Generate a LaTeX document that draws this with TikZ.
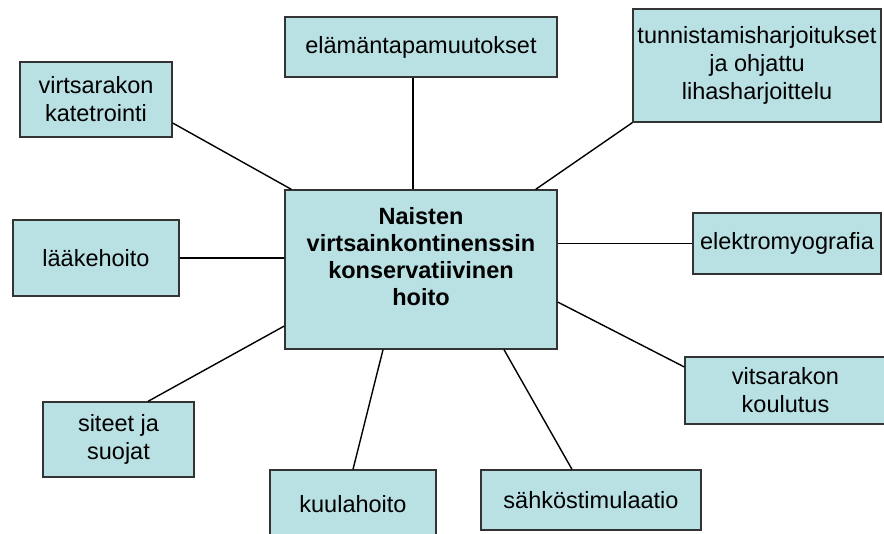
\documentclass[tikz,border=0pt]{standalone}
\usepackage{fontspec}
\setmainfont{Liberation Sans}
\definecolor{boxcyan}{RGB}{185,224,227}
\tikzset{
    mybox/.style = {rectangle, line width=1.3pt, draw=black!80, align=center, fill=boxcyan, inner sep=0pt, font=\fontsize{23.5}{28}\selectfont, text=black},
    myboxc/.style = {mybox, font=\fontsize{23.5}{27}\selectfont\bfseries},
    edgen/.style = {-, line width=1.4pt, black},
}
\begin{document}
\begin{tikzpicture}[x=1pt, y=-1pt]
  \useasboundingbox (0,0) rectangle (884,534);
  \node[myboxc, minimum width=272pt, minimum height=159pt] (cen) at (421,269.5)
    {Naisten\\virtsainkontinenssin\\konservatiivinen\\hoito\\\mbox{}};
  \node[mybox, minimum width=272pt, minimum height=60pt] (elam) at (421,47) {elämäntapamuutokset};
  \node[mybox, minimum width=248pt, minimum height=113pt] (tunn) at (757,65.5)
    {tunnistamisharjoitukset\\ja ohjattu\\lihasharjoittelu};
  \node[mybox, minimum width=152pt, minimum height=75pt] (kat) at (96,99.5) {virtsarakon\\katetrointi};
  \node[mybox, minimum width=166pt, minimum height=76pt] (laak) at (96,258) {lääkehoito};
  \node[mybox, minimum width=188pt, minimum height=61pt] (elek) at (787,243.5) {elektromyografia};
  \node[mybox, minimum width=201pt, minimum height=67pt] (vits) at (785.5,390.5) {vitsarakon\\koulutus};
  \node[mybox, minimum width=151pt, minimum height=75pt] (site) at (118.5,439.5) {siteet ja\\suojat};
  \node[mybox, minimum width=166pt, minimum height=68pt] (kuul) at (353,504) {kuulahoito};
  \node[mybox, minimum width=220pt, minimum height=60pt] (sahk) at (591,500) {sähköstimulaatio};

  % spokes
  \draw[edgen] ([xshift=-8pt]elam.south) -- ([xshift=-8pt]cen.north);
  \draw[edgen] ([yshift=-23.5pt]kat.east) -- ([xshift=7pt]cen.north west);
  \draw[edgen] (tunn.south west) -- ([xshift=-22pt]cen.north east);
  \draw[edgen] (laak.east) -- (laak.east -| cen.west);
  \draw[edgen] (elek.west) -- (elek.west -| cen.east);
  \draw[edgen] ([yshift=23.5pt]vits.west) -- ([yshift=-32.5pt]cen.east);
  \draw[edgen] ([xshift=29.5pt]site.north) -- ([yshift=-56.5pt]cen.west);
  \draw[edgen] (kuul.north) -- ([xshift=-38pt]cen.south);
  \draw[edgen] ([xshift=-19pt]sahk.north) -- ([xshift=83pt]cen.south);
\end{tikzpicture}
\end{document}
